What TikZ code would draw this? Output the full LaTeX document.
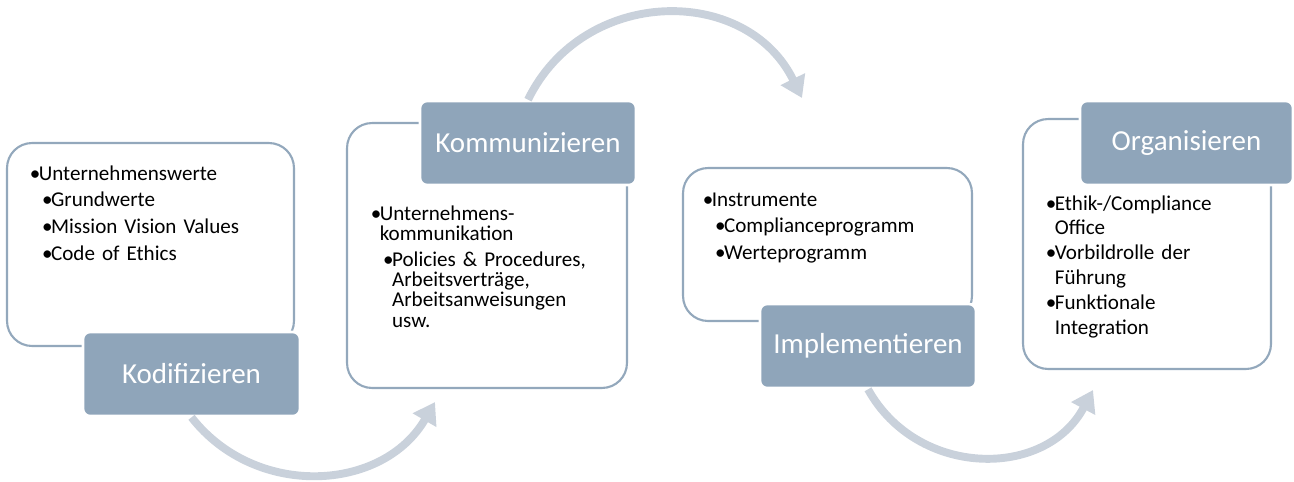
\documentclass[tikz,border=0pt]{standalone}
\usepackage{fontspec}
\setmainfont{Carlito}
\usepackage{xcolor}
\usetikzlibrary{arrows.meta}

\definecolor{tagblue}{HTML}{8FA5BA}
\definecolor{panelline}{HTML}{93A8BC}
\definecolor{flowgray}{HTML}{C9D1DB}

\newlength{\bulw}\setlength{\bulw}{5.1pt}
\newlength{\subw}\setlength{\subw}{7pt}
\newcommand{\bulpt}{\makebox[\bulw][l]{\textbullet}}
\newcommand{\subpt}{\hspace*{\subw}}
\newcommand{\contpt}{\hspace*{\bulw}}
\setlength{\lineskiplimit}{-4pt}

\tikzset{
  panel/.style={draw=panelline, line width=1.2pt, fill=white, rounded corners=0.5cm, inner sep=0pt},
  tag/.style={draw=white, line width=1.5pt, fill=tagblue, rounded corners=0.14cm, inner sep=0pt,
    minimum height=1.68cm, text=white, font=\fontsize{16.5}{20}\selectfont},
  list/.style={anchor=base west, inner sep=0pt, text width=5.2cm, align=left},
  flow/.style={draw=flowgray, line width=4.5pt, -{Triangle[length=0.42cm,width=0.52cm]}}
}

\begin{document}
\begin{tikzpicture}[x=0.02cm,y=0.02cm]
		\useasboundingbox (0,0) rectangle (1294,-481);
		\node[panel, minimum width=5.74cm, minimum height=4.06cm] (kodbox) at (150.5,-244.5) {};
		\node[panel, minimum width=5.6cm, minimum height=5.3cm] (kombox) at (487,-255.5) {};
		\node[panel, minimum width=5.78cm, minimum height=3.06cm] (impbox) at (827.5,-244.5) {};
		\node[panel, minimum width=4.96cm, minimum height=5cm] (orgbox) at (1147,-244) {};

		\node[tag, minimum width=4.34cm] (kod) at (191.5,-374) {Kodifizieren};
		\node[tag, minimum width=4.32cm] (kom) at (528,-143) {Kommunizieren};
		\node[tag, minimum width=4.32cm] (imp) at (868,-346) {Implementieren};
		\node[tag, minimum width=4.26cm] (org) at (1186.5,-143) {Organisieren};

		\node[list, font=\fontsize{12}{15.3}\selectfont] (kodtxt) at (29.5,-180)
		{\bulpt Unternehmenswerte\\
		 \subpt\bulpt Grundwerte\\
		 \subpt\bulpt Mission Vision Values\\
		 \subpt\bulpt Code of Ethics};
		\node[list, font=\fontsize{12}{11.6}\selectfont] (komtxt) at (370.5,-220)
		{\bulpt Unternehmens-\\
		 \contpt kommunikation\\[3.1pt]
		 \subpt\bulpt Policies \& Procedures,\\
		 \subpt\contpt Arbeitsverträge,\\
		 \subpt\contpt Arbeitsanweisungen\\
		 \subpt\contpt usw.};
		\node[list, font=\fontsize{12}{15.1}\selectfont] (imptxt) at (702.5,-206)
		{\bulpt Instrumente\\
		 \subpt\bulpt Complianceprogramm\\
		 \subpt\bulpt Werteprogramm};
		\node[list, font=\fontsize{12}{14.2}\selectfont] (orgtxt) at (1045.5,-210)
		{\bulpt Ethik-/Compliance\\
		 \contpt Office\\
		 \bulpt Vorbildrolle der\\
		 \contpt Führung\\
		 \bulpt Funktionale\\
		 \contpt Integration};

		\coordinate (kodend) at (435,-402);
		\coordinate (komend) at (802,-98);
		\coordinate (impend) at (1093,-390);
		\draw[flow] (kod.south) to[out=-52, in=-120, looseness=1.09] (kodend);
		\draw[flow] (kom.north) to[out=64, in=116, looseness=1.18] (komend);
		\draw[flow] (imp.south) to[out=-61, in=-118, looseness=1.15] (impend);
\end{tikzpicture}
\end{document}
